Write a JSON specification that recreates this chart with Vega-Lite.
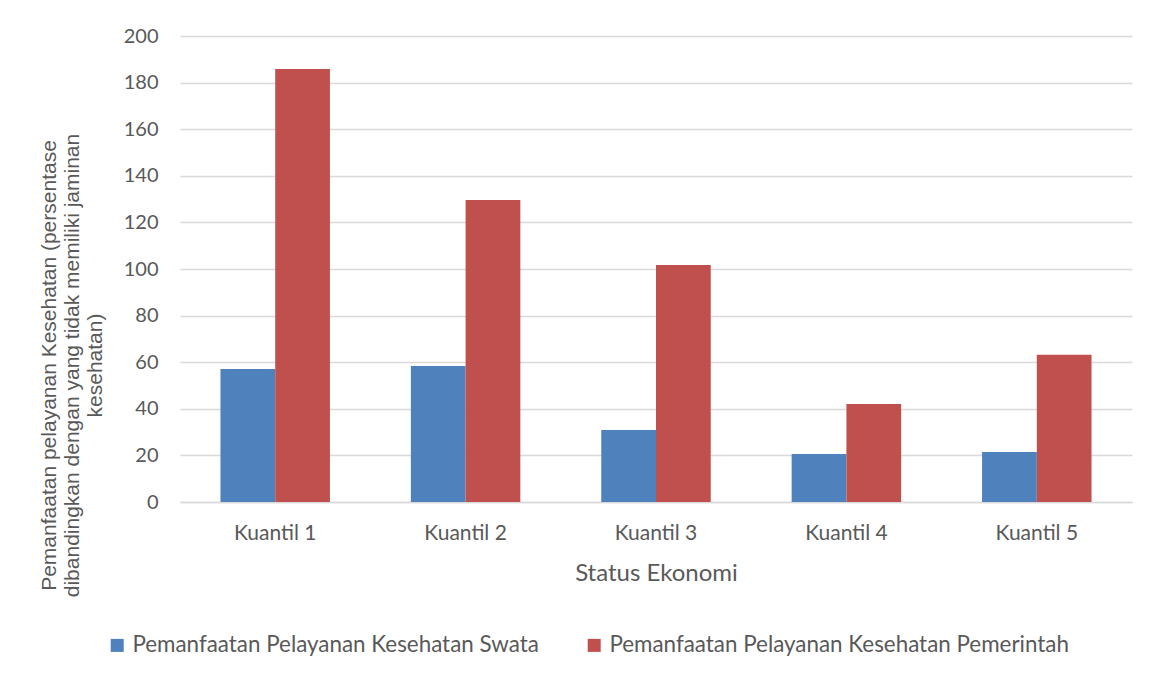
{
  "$schema": "https://vega.github.io/schema/vega-lite/v6.json",
  "width": 952,
  "height": 466,
  "autosize": {"type": "none"},
  "padding": {"left": 180, "top": 36, "right": 20, "bottom": 176},
  "background": "#ffffff",
  "data": {
    "values": [
      {"kuantil": "Kuantil 1", "series": "Pemanfaatan Pelayanan Kesehatan Swata", "value": 57.1},
      {"kuantil": "Kuantil 1", "series": "Pemanfaatan Pelayanan Kesehatan Pemerintah", "value": 185.8},
      {"kuantil": "Kuantil 2", "series": "Pemanfaatan Pelayanan Kesehatan Swata", "value": 58.4},
      {"kuantil": "Kuantil 2", "series": "Pemanfaatan Pelayanan Kesehatan Pemerintah", "value": 129.6},
      {"kuantil": "Kuantil 3", "series": "Pemanfaatan Pelayanan Kesehatan Swata", "value": 30.9},
      {"kuantil": "Kuantil 3", "series": "Pemanfaatan Pelayanan Kesehatan Pemerintah", "value": 101.7},
      {"kuantil": "Kuantil 4", "series": "Pemanfaatan Pelayanan Kesehatan Swata", "value": 20.6},
      {"kuantil": "Kuantil 4", "series": "Pemanfaatan Pelayanan Kesehatan Pemerintah", "value": 42.1},
      {"kuantil": "Kuantil 5", "series": "Pemanfaatan Pelayanan Kesehatan Swata", "value": 21.5},
      {"kuantil": "Kuantil 5", "series": "Pemanfaatan Pelayanan Kesehatan Pemerintah", "value": 63.2}
    ]
  },
  "mark": {"type": "bar"},
  "encoding": {
    "x": {
      "field": "kuantil",
      "type": "nominal",
      "sort": null,
      "scale": {"paddingInner": 0.425, "paddingOuter": 0.2125},
      "axis": {
        "title": "Status Ekonomi",
        "titleFont": "Lato",
        "titleFontSize": 24,
        "titleFontWeight": "normal",
        "titleColor": "#595959",
        "titleBaseline": "middle",
        "titleY": 71,
        "labelFont": "Lato",
        "labelFontSize": 21,
        "labelColor": "#595959",
        "labelAngle": 0,
        "labelPadding": 20,
        "ticks": false,
        "domain": true,
        "domainColor": "#d9d9d9",
        "domainWidth": 1.5
      }
    },
    "xOffset": {
      "field": "series",
      "type": "nominal",
      "sort": ["Pemanfaatan Pelayanan Kesehatan Swata", "Pemanfaatan Pelayanan Kesehatan Pemerintah"],
      "scale": {"paddingInner": 0, "paddingOuter": 0}
    },
    "y": {
      "field": "value",
      "type": "quantitative",
      "scale": {"domain": [0, 200], "nice": false},
      "axis": {
        "values": [0, 20, 40, 60, 80, 100, 120, 140, 160, 180, 200],
        "title": ["Pemanfaatan pelayanan Kesehatan (persentase", "dibandingkan dengan yang tidak memiliki jaminan", "kesehatan)"],
        "titleFont": "Liberation Sans",
        "titleFontSize": 21,
        "titleFontWeight": "normal",
        "titleColor": "#595959",
        "titleAngle": -90,
        "titleAlign": "center",
        "titleBaseline": "middle",
        "titleLineHeight": 23,
        "titleX": -131,
        "titleY": 329,
        "labelFont": "Lato",
        "labelFontSize": 20,
        "labelColor": "#595959",
        "labelPadding": 22,
        "ticks": false,
        "domain": false,
        "grid": true,
        "gridColor": "#d9d9d9",
        "gridWidth": 1.5
      }
    },
    "color": {
      "field": "series",
      "type": "nominal",
      "sort": ["Pemanfaatan Pelayanan Kesehatan Swata", "Pemanfaatan Pelayanan Kesehatan Pemerintah"],
      "scale": {
        "domain": ["Pemanfaatan Pelayanan Kesehatan Swata", "Pemanfaatan Pelayanan Kesehatan Pemerintah"],
        "range": ["#4f81bd", "#c0504d"]
      },
      "legend": {
        "title": null,
        "orient": "none",
        "direction": "horizontal",
        "legendX": -74,
        "legendY": 598,
        "symbolType": "square",
        "symbolSize": 169,
        "symbolStrokeWidth": 0,
        "symbolOpacity": 1,
        "labelFont": "Lato",
        "labelFontSize": 22.4,
        "labelColor": "#595959",
        "labelOffset": 4,
        "labelLimit": 600,
        "columnPadding": 44
      }
    }
  },
  "config": {
    "view": {"stroke": null}
  }
}
